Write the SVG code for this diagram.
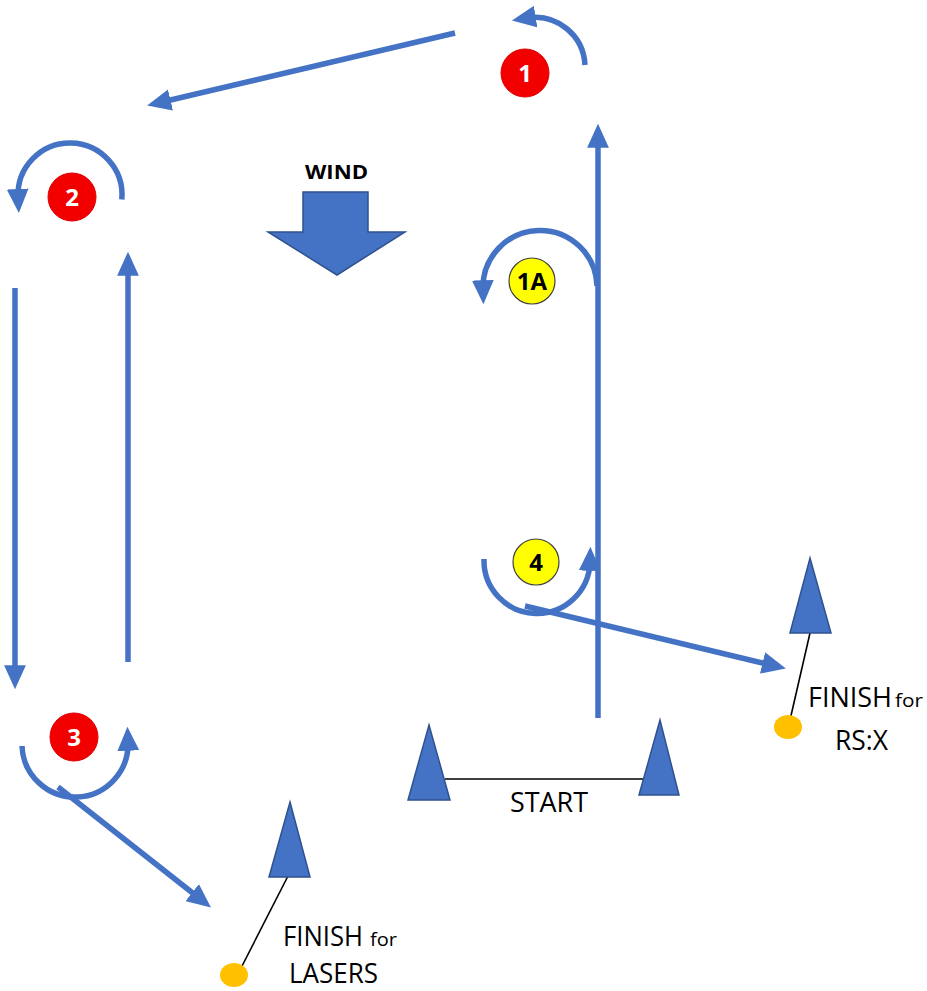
<svg xmlns="http://www.w3.org/2000/svg" width="927" height="991" viewBox="0 0 927 991">
<style>
.c{fill:none;stroke:#4472C4;stroke-width:5.5;marker-end:url(#ah)}
.buoy{fill:#4472C4;stroke:#2F528F;stroke-width:1.5}
.red{fill:#F20000;stroke:#E00000;stroke-width:1}
.yel{fill:#FFFF00;stroke:#404040;stroke-width:1.2}
.num{font-family:"Open Sans",sans-serif;font-weight:bold;font-size:24px;text-anchor:middle}
.lbl{font-family:"Open Sans",sans-serif;font-size:28px;fill:#000}
.sm{font-size:18px}
.thin{stroke:#000;stroke-width:1.6;fill:none}
</style>
<defs>
<marker id="ah" markerUnits="userSpaceOnUse" markerWidth="24" markerHeight="22" viewBox="0 0 22 20" refX="8" refY="10" orient="auto">
<path d="M0,0 L22,10 L0,20 z" fill="#4472C4"/>
</marker>
</defs>
<rect width="927" height="991" fill="#fff"/>
<g id="connectors">
<path class="c" d="M455,33 L162,102"/>
<path class="c" d="M585,65 A50,50 0 0,0 527,18"/>
<path class="c" d="M121.8,199.5 A52,52 0 1,0 18.07,197.7"/>
<path class="c" d="M15,288 L15,674"/>
<path class="c" d="M128,662 L128,267"/>
<path class="c" d="M22,746 A53,53 0 0,0 128,742"/>
<path class="c" d="M58,787 L199,898"/>
<path class="c" d="M598,718 L598,139"/>
<path class="c" d="M597,286 A57,57 0 1,0 483,289"/>
<path class="c" d="M484,559 A53,53 0 0,0 590,562"/>
<path class="c" d="M525,606 L771,665"/>
<line class="thin" x1="445" y1="779" x2="646" y2="779"/>
<line class="thin" x1="810" y1="633" x2="790" y2="720"/>
<line class="thin" x1="288" y1="876" x2="240" y2="970"/>
</g>
<g id="mark1"><circle class="red" cx="525" cy="73" r="24"/><text class="num" x="525" y="82" fill="#fff">1</text></g>
<g id="mark2"><circle class="red" cx="72" cy="197" r="24"/><text class="num" x="72" y="206" fill="#fff">2</text></g>
<g id="mark3"><circle class="red" cx="74" cy="737" r="24"/><text class="num" x="74" y="746" fill="#fff">3</text></g>
<g id="mark1A"><circle class="yel" cx="532" cy="281" r="23"/><text class="num" x="532" y="290" fill="#000">1A</text></g>
<g id="mark4"><circle class="yel" cx="536" cy="562" r="23"/><text class="num" x="536" y="571" fill="#000">4</text></g>
<g id="wind">
<text x="305" y="179" font-family="Open Sans, sans-serif" font-weight="bold" font-size="20" textLength="63" lengthAdjust="spacingAndGlyphs">WIND</text>
<path d="M303,192 L368,192 L368,232 L405,232 L337,275 L268,232 L303,232 z" fill="#4472C4" stroke="#2F528F" stroke-width="1.5"/>
</g>
<g id="start">
<polygon class="buoy" points="429,725 450,800 408,800"/>
<polygon class="buoy" points="660,720 679,795 639,795"/>
<text class="lbl" x="510" y="812" textLength="78" lengthAdjust="spacingAndGlyphs">START</text>
</g>
<g id="finish-rsx">
<polygon class="buoy" points="810,558 831,633 790,633"/>
<ellipse cx="788" cy="727" rx="14" ry="12" fill="#FFC000"/>
<text class="lbl" x="808" y="707"><tspan textLength="84" lengthAdjust="spacingAndGlyphs">FINISH</tspan><tspan class="sm" x="895" textLength="28" lengthAdjust="spacingAndGlyphs">for</tspan></text>
<text class="lbl" x="835" y="750" textLength="53" lengthAdjust="spacingAndGlyphs">RS:X</text>
</g>
<g id="finish-lasers">
<polygon class="buoy" points="290,802 310,877 269,877"/>
<ellipse cx="234" cy="975" rx="14" ry="12" fill="#FFC000"/>
<text class="lbl" x="283" y="946"><tspan textLength="80" lengthAdjust="spacingAndGlyphs">FINISH</tspan><tspan class="sm" x="370" textLength="27" lengthAdjust="spacingAndGlyphs">for</tspan></text>
<text class="lbl" x="289" y="983" textLength="89" lengthAdjust="spacingAndGlyphs">LASERS</text>
</g>
</svg>
